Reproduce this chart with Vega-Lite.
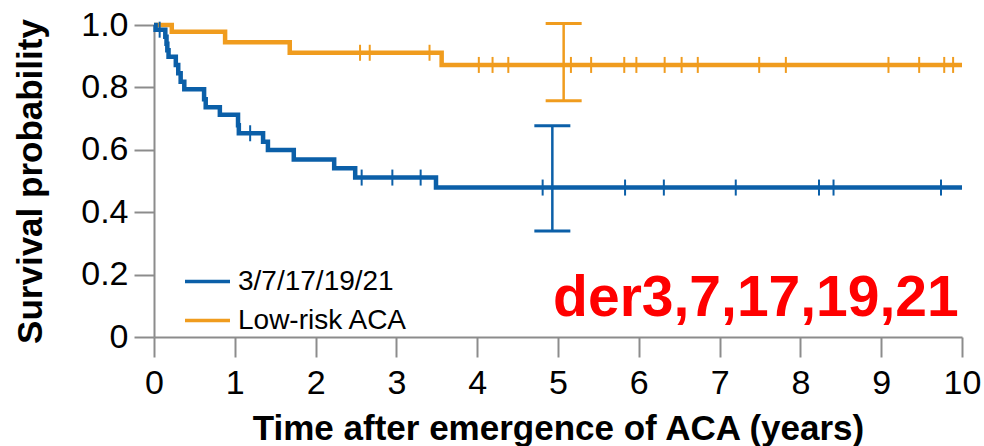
{
  "$schema": "https://vega.github.io/schema/vega-lite/v6.json",
  "width": 808,
  "height": 312,
  "autosize": {"type": "none"},
  "padding": {"left": 154, "top": 25, "right": 22, "bottom": 109},
  "background": "white",
  "config": {
    "view": {"stroke": null},
    "font": "Liberation Sans",
    "axis": {
      "grid": false,
      "domainColor": "#8c8c8c",
      "domainWidth": 2,
      "tickColor": "#8c8c8c",
      "tickWidth": 2,
      "tickSize": 20,
      "labelColor": "#000000",
      "labelFont": "Liberation Sans",
      "labelFontSize": 34,
      "titleColor": "#000000",
      "titleFont": "Liberation Sans",
      "titleFontWeight": "bold",
      "titleFontSize": 35
    }
  },
  "datasets": {
    "curves": [
      {"group": "Low-risk ACA", "t": 0, "s": 1.0},
      {"group": "Low-risk ACA", "t": 0.22, "s": 0.978},
      {"group": "Low-risk ACA", "t": 0.88, "s": 0.945},
      {"group": "Low-risk ACA", "t": 1.68, "s": 0.911},
      {"group": "Low-risk ACA", "t": 3.56, "s": 0.872},
      {"group": "Low-risk ACA", "t": 10, "s": 0.872},
      {"group": "3/7/17/19/21", "t": 0, "s": 1.0},
      {"group": "3/7/17/19/21", "t": 0.02, "s": 0.985},
      {"group": "3/7/17/19/21", "t": 0.14, "s": 0.962},
      {"group": "3/7/17/19/21", "t": 0.155, "s": 0.94},
      {"group": "3/7/17/19/21", "t": 0.165, "s": 0.919},
      {"group": "3/7/17/19/21", "t": 0.18, "s": 0.898},
      {"group": "3/7/17/19/21", "t": 0.27, "s": 0.872},
      {"group": "3/7/17/19/21", "t": 0.3, "s": 0.845},
      {"group": "3/7/17/19/21", "t": 0.33, "s": 0.818},
      {"group": "3/7/17/19/21", "t": 0.375, "s": 0.794},
      {"group": "3/7/17/19/21", "t": 0.62, "s": 0.762},
      {"group": "3/7/17/19/21", "t": 0.64, "s": 0.736},
      {"group": "3/7/17/19/21", "t": 0.815, "s": 0.712},
      {"group": "3/7/17/19/21", "t": 1.04, "s": 0.679},
      {"group": "3/7/17/19/21", "t": 1.05, "s": 0.653},
      {"group": "3/7/17/19/21", "t": 1.35, "s": 0.626},
      {"group": "3/7/17/19/21", "t": 1.41, "s": 0.599},
      {"group": "3/7/17/19/21", "t": 1.73, "s": 0.569},
      {"group": "3/7/17/19/21", "t": 2.23, "s": 0.541},
      {"group": "3/7/17/19/21", "t": 2.49, "s": 0.511},
      {"group": "3/7/17/19/21", "t": 3.49, "s": 0.479},
      {"group": "3/7/17/19/21", "t": 10, "s": 0.479}
    ],
    "censored": [
      {"group": "Low-risk ACA", "t": 2.55, "s": 0.911},
      {"group": "Low-risk ACA", "t": 2.67, "s": 0.911},
      {"group": "Low-risk ACA", "t": 3.41, "s": 0.911},
      {"group": "Low-risk ACA", "t": 4.02, "s": 0.872},
      {"group": "Low-risk ACA", "t": 4.19, "s": 0.872},
      {"group": "Low-risk ACA", "t": 4.385, "s": 0.872},
      {"group": "Low-risk ACA", "t": 5.16, "s": 0.872},
      {"group": "Low-risk ACA", "t": 5.41, "s": 0.872},
      {"group": "Low-risk ACA", "t": 5.82, "s": 0.872},
      {"group": "Low-risk ACA", "t": 5.97, "s": 0.872},
      {"group": "Low-risk ACA", "t": 6.32, "s": 0.872},
      {"group": "Low-risk ACA", "t": 6.53, "s": 0.872},
      {"group": "Low-risk ACA", "t": 6.73, "s": 0.872},
      {"group": "Low-risk ACA", "t": 7.49, "s": 0.872},
      {"group": "Low-risk ACA", "t": 7.82, "s": 0.872},
      {"group": "Low-risk ACA", "t": 9.09, "s": 0.872},
      {"group": "Low-risk ACA", "t": 9.47, "s": 0.872},
      {"group": "Low-risk ACA", "t": 9.78, "s": 0.872},
      {"group": "Low-risk ACA", "t": 9.89, "s": 0.872},
      {"group": "3/7/17/19/21", "t": 0.07, "s": 0.985},
      {"group": "3/7/17/19/21", "t": 1.19, "s": 0.653},
      {"group": "3/7/17/19/21", "t": 2.57, "s": 0.511},
      {"group": "3/7/17/19/21", "t": 2.95, "s": 0.511},
      {"group": "3/7/17/19/21", "t": 3.3, "s": 0.511},
      {"group": "3/7/17/19/21", "t": 4.81, "s": 0.479},
      {"group": "3/7/17/19/21", "t": 5.83, "s": 0.479},
      {"group": "3/7/17/19/21", "t": 6.31, "s": 0.479},
      {"group": "3/7/17/19/21", "t": 7.2, "s": 0.479},
      {"group": "3/7/17/19/21", "t": 8.23, "s": 0.479},
      {"group": "3/7/17/19/21", "t": 8.41, "s": 0.479},
      {"group": "3/7/17/19/21", "t": 9.74, "s": 0.479}
    ],
    "intervals": [
      {"group": "3/7/17/19/21", "t": 4.93, "lo": 0.34, "hi": 0.677},
      {"group": "Low-risk ACA", "t": 5.07, "lo": 0.757, "hi": 1.005}
    ]
  },
  "encoding": {
    "x": {
      "field": "t",
      "type": "quantitative",
      "scale": {"domain": [0, 10], "nice": false},
      "axis": {
        "title": "Time after emergence of ACA (years)",
        "values": [0, 1, 2, 3, 4, 5, 6, 7, 8, 9, 10],
        "labelPadding": 9,
        "titlePadding": 11,
        "labelFlush": false
      }
    },
    "y": {
      "field": "s",
      "type": "quantitative",
      "scale": {"domain": [0, 1], "nice": false},
      "axis": {
        "title": "Survival probability",
        "values": [0, 0.2, 0.4, 0.6, 0.8, 1],
        "labelExpr": "datum.value == 0 ? '0' : format(datum.value, '.1f')",
        "labelPadding": 6,
        "titlePadding": 32,
        "labelFlush": false
      }
    },
    "color": {
      "field": "group",
      "type": "nominal",
      "scale": {
        "domain": ["3/7/17/19/21", "Low-risk ACA"],
        "range": ["#0b5fa8", "#f09c1e"]
      },
      "legend": {
        "orient": "none",
        "legendX": 29,
        "legendY": 232,
        "padding": 0,
        "title": null,
        "labelFont": "Liberation Sans",
        "labelFontSize": 28,
        "labelColor": "#000000",
        "labelOffset": 6,
        "labelLimit": 400,
        "rowPadding": -3,
        "symbolType": "stroke",
        "symbolSize": 2025,
        "symbolStrokeWidth": 3.5
      }
    }
  },
  "layer": [
    {
      "data": {"name": "curves"},
      "mark": {"type": "line", "interpolate": "step-after", "strokeWidth": 4.5, "clip": false},
      "encoding": {
        "order": {"field": "t", "type": "quantitative"}
      }
    },
    {
      "data": {"name": "censored"},
      "mark": {"type": "tick", "orient": "vertical", "size": 16, "thickness": 2, "opacity": 1}
    },
    {
      "data": {"name": "intervals"},
      "mark": {"type": "rule", "strokeWidth": 2.5},
      "encoding": {
        "y": {"field": "lo", "type": "quantitative"},
        "y2": {"field": "hi"}
      }
    },
    {
      "data": {"name": "intervals"},
      "mark": {"type": "tick", "orient": "horizontal", "size": 36, "thickness": 3, "opacity": 1},
      "encoding": {
        "y": {"field": "lo", "type": "quantitative"}
      }
    },
    {
      "data": {"name": "intervals"},
      "mark": {"type": "tick", "orient": "horizontal", "size": 36, "thickness": 3, "opacity": 1},
      "encoding": {
        "y": {"field": "hi", "type": "quantitative"}
      }
    },
    {
      "data": {"values": [{"t": 9.96, "s": 0.066, "label": "der3,7,17,19,21"}]},
      "mark": {
        "type": "text",
        "align": "right",
        "baseline": "alphabetic",
        "font": "Liberation Sans",
        "fontWeight": "bold",
        "fontSize": 57
      },
      "encoding": {
        "text": {"field": "label"},
        "color": {"value": "#ff0000"}
      }
    }
  ]
}
